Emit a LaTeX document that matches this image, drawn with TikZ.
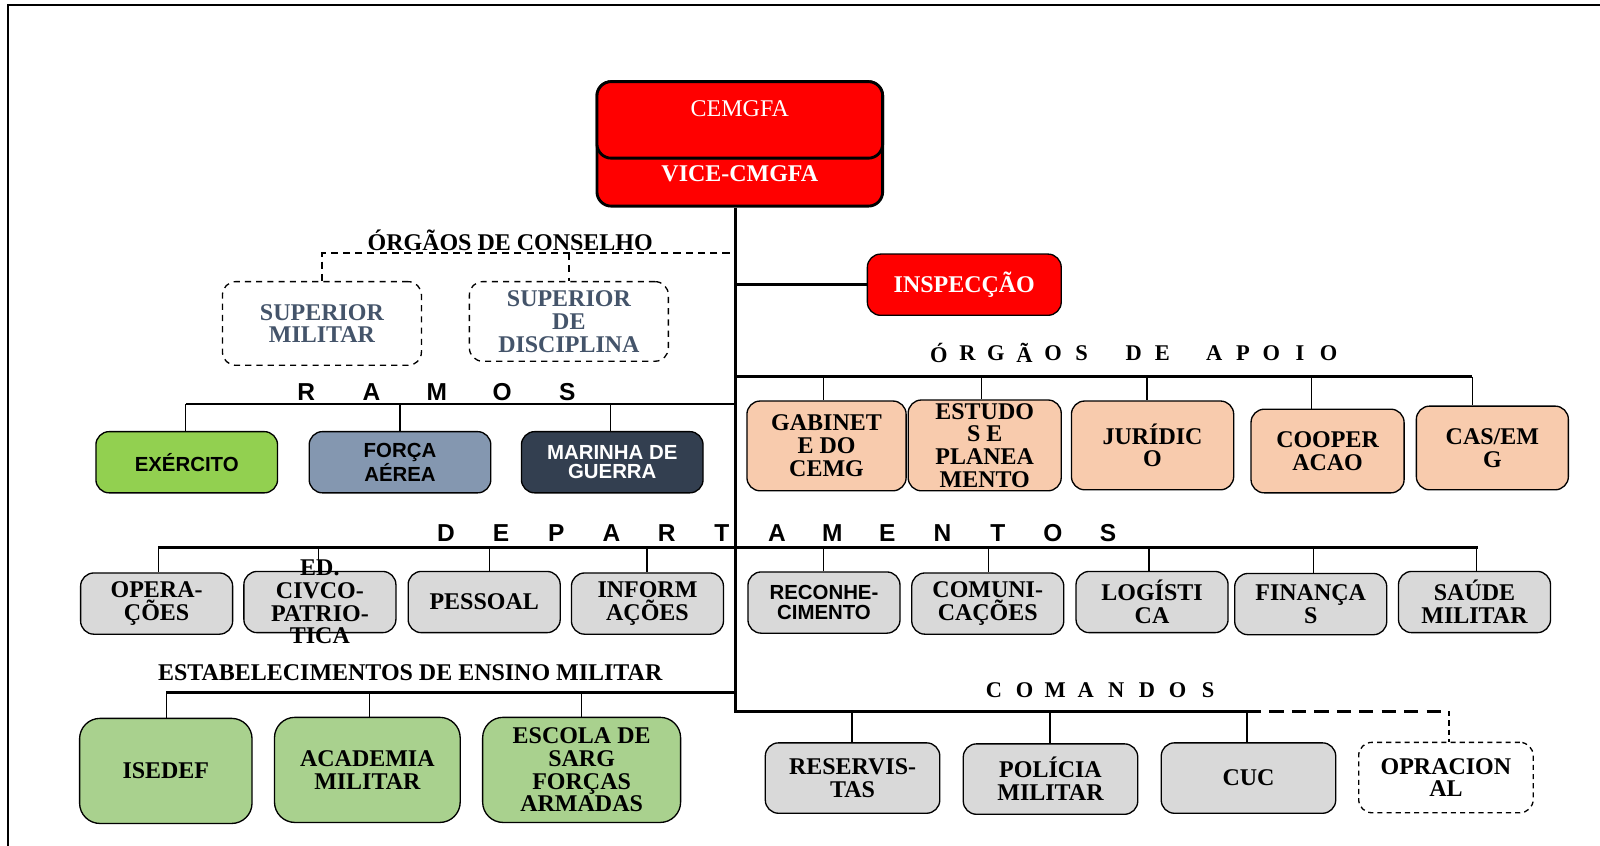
\documentclass[tikz,border=0pt]{standalone}
\usepackage{fontspec}
\setmainfont{Liberation Serif}
\newfontfamily\arialf{Liberation Sans}
\usetikzlibrary{calc}
\definecolor{redc}{HTML}{FF0000}
\definecolor{peach}{HTML}{F8CBAD}
\definecolor{greyc}{HTML}{D9D9D9}
\definecolor{greenl}{HTML}{A9D18E}
\definecolor{greenx}{HTML}{92D050}
\definecolor{bluegr}{HTML}{8497B0}
\definecolor{darksl}{HTML}{333F50}
\definecolor{slate}{HTML}{44546A}
\newcommand\tnr{\fontsize{23.5}{22.3}\selectfont\bfseries}
\newcommand\tnrm{\fontsize{23.5}{22}\selectfont}
\newcommand\arl{\arialf\fontsize{20}{19}\selectfont\bfseries}
\newcommand\spT{\fontsize{22}{22}\selectfont\bfseries}
\newcommand\spA{\arialf\fontsize{24}{24}\selectfont\bfseries}
\begin{document}
\begin{tikzpicture}[x=1pt,y=-1pt,
  frame/.style={line width=1.5pt},
  trunk/.style={line width=3pt},
  bar/.style={line width=3pt},
  bar2/.style={line width=2.2pt},
  drop/.style={line width=1.3pt},
  dashline/.style={line width=1.3pt, dash pattern=on 7pt off 5pt},
  orgbox/.style={draw=black, line width=1.3pt, rounded corners=13pt, align=center, inner sep=0pt, font=\tnr},
  sz/.style 2 args={minimum width=#1pt, minimum height=#2pt},
  redbox/.style={orgbox, fill=redc, line width=2.8pt, rounded corners=14pt, text=white},
  inspbox/.style={orgbox, fill=redc, text=white},
  apoio/.style={orgbox, fill=peach},
  dep/.style={orgbox, fill=greyc, sz={149}{60}},
  ens/.style={orgbox, fill=greenl, rounded corners=20pt},
  cmd/.style={orgbox, fill=greyc, sz={171}{69}},
  ramo/.style={orgbox, font=\arl, sz={178}{60}},
  cons/.style={orgbox, dash pattern=on 6pt off 5pt, text=slate, fill=white},
  ttl/.style={font=\tnr, inner sep=0pt},
  spt/.style={font=\spT, inner sep=0pt},
  spa/.style={font=\spA, inner sep=0pt}
]
\useasboundingbox (0,0) rectangle (1568,829);
\draw[frame] (8,829) -- (8,5) -- (1568,5);

% --- top ---
\node[redbox, sz={280}{122}, text height=78pt, text depth=5pt] (vice) at (725,141) {VICE-CMGFA};
\node[redbox, sz={280}{75}, text height=5pt, text depth=11pt, font=\tnrm] (cem) at (725,117.5) {CEMGFA};
\coordinate (tb) at (721,697);
\coordinate (cS) at (1222,697);
\coordinate (cD) at (1420,697);
\draw[trunk] (vice.south -| tb) -- (tb) -- (cS);

% --- inspeccao ---
\node[inspbox, sz={190}{60}] (insp) at (945,279) {INSPECÇÃO};
\draw[trunk] (insp.west -| tb) -- (insp.west);

% --- conselho ---
\node[ttl] (tcons) at (500,236) {ÓRGÃOS DE CONSELHO};
\node[cons, sz={195}{82}] (sm) at (315.5,317) {SUPERIOR\\MILITAR};
\node[cons, sz={195}{78}] (sd) at (557.5,315) {SUPERIOR\\DE\\DISCIPLINA};
\coordinate (cj) at (715,248);
\draw[dashline] (cj) -- (cj -| sm.north) -- (sm.north);
\draw[dashline] (sd.north |- cj) -- (sd.north);

% --- apoio ---
\foreach \l/\x [count=\i] in {Ó/920,R/948,G/976,Ã/1004,O/1032,S/1060,D/1111,E/1139,A/1190,P/1218,O/1246,I/1274,O/1302}
  \node[spt] (ap\i) at (\x,346) {\l};
\node[apoio, sz={156}{88}] (gab) at (810,437) {GABINET\\E DO\\CEMG};
\node[apoio, sz={150}{89}] (est) at (965,436.5) {ESTUDO\\S E\\PLANEA\\MENTO};
\node[apoio, sz={159}{87}] (jur) at (1129.5,436.5) {JURÍDIC\\O};
\node[apoio, sz={150}{82}] (coop) at (1301,442) {COOPER\\ACAO};
\node[apoio, sz={149}{82}] (cas) at (1462.5,439) {CAS/EM\\G};
\coordinate (apR) at (1443,369);
\draw[bar] (apR -| tb) -- (apR);
\foreach \n/\x in {gab/807, est/962, jur/1124, coop/1285, cas/1443}{
  \coordinate (ad\n) at (\x,369);
  \draw[drop] (ad\n) -- (ad\n |- \n.north);
}

% --- ramos ---
\foreach \l [count=\i] in {R,A,M,O,S}
  \node[spa] (ra\i) at ({300+64*(\i-1)},384) {\l};
\node[ramo, fill=greenx] (exe) at (183,453) {EXÉRCITO};
\node[ramo, fill=bluegr] (fa) at (392,453) {FORÇA\\AÉREA};
\node[ramo, fill=darksl, text=white] (mg) at (600,453) {MARINHA DE\\GUERRA};
\coordinate (rL) at (182,396);
\draw[bar2] (rL) -- (rL -| tb);
\foreach \n/\x in {exe/182, fa/392, mg/598}{
  \coordinate (rd\n) at (\x,396);
  \draw[drop] (rd\n) -- (rd\n |- \n.north);
}

% --- departamentos ---
\foreach \l [count=\i] in {D,E,P,A,R,T,A,M,E,N,T,O,S}
  \node[spa] (de\i) at ({437+54.08*(\i-1)},522) {\l};
\node[dep] (ope) at (153.5,591.5) {OPERA-\\ÇÕES};
\node[dep, inner ysep=-16pt] (edc) at (313.5,590) {ED.\\CIVCO-\\PATRIO-\\TICA};
\node[dep] (pes) at (474.5,590) {PESSOAL};
\node[dep] (inf) at (634.5,591.5) {INFORM\\AÇÕES};
\node[dep, font=\arl] (rec) at (807.5,590.5) {RECONHE-\\CIMENTO};
\node[dep] (com) at (968,591.5) {COMUNI-\\CAÇÕES};
\node[dep] (log) at (1129,590) {LOGÍSTI\\CA};
\node[dep] (fin) at (1284.5,592) {FINANÇA\\S};
\node[dep] (sau) at (1445,590) {SAÚDE\\MILITAR};
\coordinate (dL) at (155,537);
\coordinate (dR) at (1448,537);
\draw[bar] (dL) -- (dR);
\foreach \n/\x in {ope/155, edc/312, pes/480, inf/634, rec/807, com/969, log/1126, fin/1287, sau/1447}{
  \coordinate (dd\n) at (\x,537);
  \draw[drop] (dd\n) -- (dd\n |- \n.north);
}

% --- ensino ---
\node[ttl] (tens) at (402,659) {ESTABELECIMENTOS DE ENSINO MILITAR};
\node[ens, sz={169}{103}] (ise) at (162.5,755.5) {ISEDEF};
\node[ens, sz={182}{103}] (aca) at (360,754.5) {ACADEMIA\\MILITAR};
\node[ens, sz={194}{103}] (esc) at (570,754.5) {ESCOLA DE\\SARG\\FORÇAS\\ARMADAS};
\coordinate (eL) at (163,679);
\draw[bar] (eL) -- (eL -| tb);
\foreach \n/\x in {ise/163, aca/362, esc/570}{
  \coordinate (ed\n) at (\x,679);
  \draw[drop] (ed\n) -- (ed\n |- \n.north);
}

% --- comandos ---
\foreach \l [count=\i] in {C,O,M,A,N,D,O,S}
  \node[spt] (co\i) at ({974+30*(\i-1)},676) {\l};
\node[cmd] (res) at (835.5,762.5) {RESERVIS-\\TAS};
\node[cmd] (pol) at (1029.5,763.5) {POLÍCIA\\MILITAR};
\node[cmd] (cuc) at (1223.5,762.5) {CUC};
\node[cmd, fill=white, dash pattern=on 5pt off 4pt] (opr) at (1417,762) {OPRACION\\AL};
\draw[bar, dash pattern=on 14pt off 8pt] (cS) -- (cD);
\draw[dashline, dash pattern=on 5pt off 4pt] (cD) -- (cD |- opr.north);
\foreach \n/\x in {res/835, pol/1029, cuc/1222}{
  \coordinate (cd\n) at (\x,697);
  \draw[drop] (cd\n) -- (cd\n |- \n.north);
}
\end{tikzpicture}
\end{document}
